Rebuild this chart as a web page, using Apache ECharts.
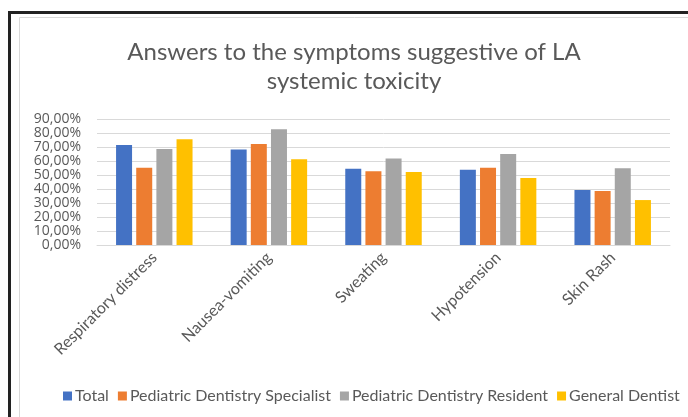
<!DOCTYPE html>
<html>
<head>
<meta charset="utf-8">
<script src="https://cdn.jsdelivr.net/npm/echarts@6/dist/echarts.min.js"></script>
<style>
  html, body { margin: 0; padding: 0; background: #fff; }
  #chart { width: 688px; height: 417px; }
</style>
</head>
<body>
<div id="chart"></div>
<script>
// symptoms (x axis)
const categories = ['Respiratory distress', 'Nausea-vomiting', 'Sweating', 'Hypotension', 'Skin Rash']

// answer rates in %
const total = [71.4, 68.3, 54.5, 53.8, 39.3]
const specialist = [55.2, 72.1, 52.6, 55.2, 38.6]
const resident = [68.6, 82.6, 61.7, 65.0, 54.8]
const generalDentist = [75.5, 61.2, 52.1, 47.9, 32.1]

const seriesNames = ['Total', 'Pediatric Dentistry Specialist', 'Pediatric Dentistry Resident', 'General Dentist']
const colors = ['#4472C4', '#ED7D31', '#A5A5A5', '#FFC000']

const font = 'Lato, "Open Sans", sans-serif'

const chart = echarts.init(document.getElementById('chart'), null, { renderer: 'canvas' })

const makeBar = (name, data) => ({
  name: name,
  type: 'bar',
  data: data,
  barWidth: 16,
  barGap: '26%'
})

chart.setOption({
  animation: false,
  color: colors,
  title: {
    text: 'Answers to the symptoms suggestive of LA\nsystemic toxicity',
    left: 349,
    textAlign: 'center',
    top: 33,
    textStyle: {
      fontFamily: font,
      fontWeight: 'normal',
      fontSize: 24,
      lineHeight: 29,
      color: '#595959'
    }
  },
  legend: {
    data: seriesNames,
    left: 58,
    top: 383,
    icon: 'rect',
    itemWidth: 9,
    itemHeight: 9,
    itemGap: 9,
    textStyle: { fontFamily: font, fontSize: 16, color: '#595959', padding: [0, 0, 0, -2] }
  },
  grid: { left: 97, right: 18, top: 119, bottom: 172 },
  xAxis: {
    type: 'category',
    data: categories,
    axisTick: { show: false },
    axisLine: { lineStyle: { color: '#d9d9d9' } },
    axisLabel: {
      rotate: 45,
      margin: 10,
      fontFamily: font,
      fontSize: 16,
      color: '#595959'
    }
  },
  yAxis: {
    type: 'value',
    min: 0,
    max: 90,
    interval: 10,
    axisLine: { show: false },
    axisTick: { show: false },
    splitLine: { lineStyle: { color: '#d9d9d9' } },
    axisLabel: {
      margin: 16,
      fontFamily: '"Open Sans", sans-serif',
      fontSize: 14,
      lineHeight: 13,
      color: '#595959',
      hideOverlap: false,
      showMinLabel: true,
      showMaxLabel: true,
      formatter: v => v.toFixed(2).replace('.', ',') + '%'
    }
  },
  graphic: [
    {
      type: 'rect',
      shape: { x: 9.5, y: 12.5, width: 720, height: 440 },
      style: { fill: 'none', stroke: '#222', lineWidth: 3 },
      silent: true
    },
    {
      type: 'rect',
      shape: { x: 19.5, y: 17.5, width: 720, height: 440 },
      style: { fill: 'none', stroke: '#d9d9d9', lineWidth: 1 },
      silent: true
    }
  ],
  series: [
    makeBar(seriesNames[0], total),
    makeBar(seriesNames[1], specialist),
    makeBar(seriesNames[2], resident),
    makeBar(seriesNames[3], generalDentist)
  ]
})
</script>
</body>
</html>
